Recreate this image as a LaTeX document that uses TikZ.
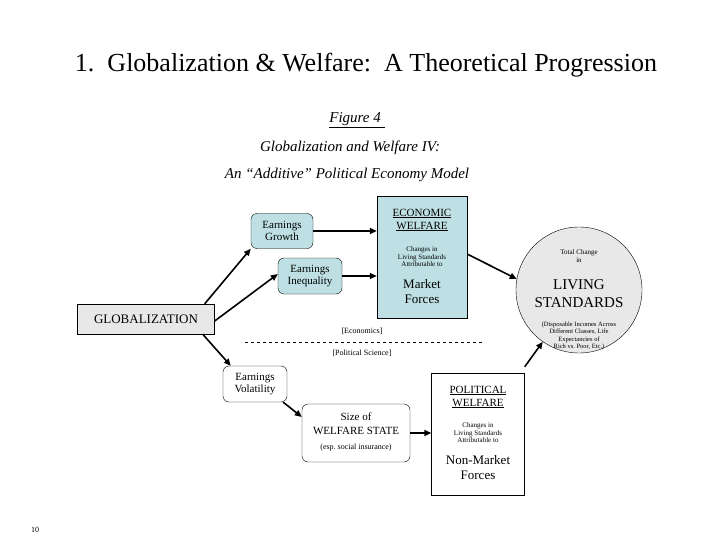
\documentclass[tikz,border=0pt]{standalone}
\usepackage{fontspec}
\setmainfont{Liberation Serif}
\usetikzlibrary{arrows.meta}
\definecolor{lblue}{RGB}{190,224,228}
\definecolor{lgray}{RGB}{232,232,232}
\begin{document}
\begin{tikzpicture}[x=1pt,y=-1pt,
  rbox/.style={draw,rounded corners=6pt,align=center,inner sep=2pt},
  bluefill/.style={fill=lblue},
  arr/.style={-{Triangle[length=7pt,width=6pt]},line width=1.6pt},
  small/.style={font=\fontsize{7}{7.5}\selectfont}]
\useasboundingbox (0,0) rectangle (720,540);
\node (title) at (366,65) {\fontsize{26}{30}\selectfont 1.\ \ Globalization \& Welfare:\ \ A Theoretical Progression};
\node (fig) at (357,120) {\fontsize{15}{17}\selectfont\itshape\underline{Figure 4\ }};
\node (sub1) at (350,148) {\fontsize{15}{17}\selectfont\itshape Globalization and Welfare IV:};
\node (sub2) at (347,175) {\fontsize{15}{17}\selectfont\itshape An ``Additive'' Political Economy Model};
\node[draw,fill=lgray,minimum width=137pt,minimum height=30pt,font=\fontsize{13}{14}\selectfont] (glob) at (146,319) {GLOBALIZATION};
\node[rbox,bluefill,minimum width=62pt,minimum height=35pt,font=\fontsize{11}{12}\selectfont] (grow) at (282,231) {Earnings\\Growth};
\node[rbox,bluefill,minimum width=64pt,minimum height=36pt,font=\fontsize{11}{12}\selectfont] (ineq) at (310,276) {Earnings\\Inequality};
\node[draw,bluefill,minimum width=90pt,minimum height=122pt] (econ) at (422,257) {};
\node[align=center,font=\fontsize{11}{13}\selectfont] (econt) at (422,220) {\underline{ECONOMIC}\\\underline{WELFARE}};
\node[align=center,small] (econs) at (422,257) {Changes in\\Living Standards\\Attributable to};
\node[align=center,font=\fontsize{13}{15}\selectfont] (econm) at (422,292) {Market\\Forces};
\node[draw,circle,fill=lgray,minimum size=126pt] (circ) at (579,290) {};
\node[align=center,small] (circa) at (579,256) {Total Change\\in};
\node[align=center,font=\fontsize{15}{18}\selectfont] (circb) at (579,294) {LIVING\\STANDARDS};
\node[align=center,font=\fontsize{6.5}{7.5}\selectfont] (circc) at (579,336) {(Disposable Incomes Across\\Different Classes, Life\\Expectancies of\\Rich vs.\ Poor, Etc.)};
\coordinate (dl) at (245,342); \coordinate (dr) at (483,342);
\draw[dashed] (dl) -- (dr);
\node[font=\fontsize{8}{9}\selectfont] (ecl) at (362,331) {[Economics]};
\node[font=\fontsize{8}{9}\selectfont] (pol) at (362,353) {[Political Science]};
\node[rbox,minimum width=64pt,minimum height=36pt,font=\fontsize{11}{12}\selectfont] (vol) at (255,384) {Earnings\\Volatility};
\node[rbox,minimum width=108pt,minimum height=58pt,align=center] (ws) at (356,433) {};
\node[align=center,font=\fontsize{11}{14}\selectfont] (wst) at (356,424) {Size of\\WELFARE STATE};
\node[font=\fontsize{8}{9}\selectfont] (wss) at (356,448) {(esp.\ social insurance)};
\node[draw,minimum width=93pt,minimum height=122pt] (polw) at (478,434) {};
\node[align=center,font=\fontsize{11}{13}\selectfont] (polt) at (478,397) {\underline{POLITICAL}\\\underline{WELFARE}};
\node[align=center,small] (pols) at (478,433) {Changes in\\Living Standards\\Attributable to};
\node[align=center,font=\fontsize{13}{15}\selectfont] (polm) at (478,468) {Non-Market\\Forces};
\node[font=\fontsize{8}{9}\selectfont] (pg) at (35,530) {10};
\draw[arr] ([xshift=-10pt]glob.north east) -- (grow.south west);
\draw[arr] ([yshift=-2pt]glob.east) -- ([yshift=2pt]ineq.west);
\draw[arr] ([xshift=-12pt]glob.south east) -- ([xshift=8pt]vol.north west);
\draw[arr] (grow.east) -- (grow.east -| econ.west);
\draw[arr] (ineq.east) -- (ineq.east -| econ.west);
\draw[arr] ([yshift=3pt]econ.east) -- (circ.170);
\draw[arr] ([xshift=-4pt]vol.south east) -- ([yshift=16pt]ws.west);
\draw[arr] (ws.east) -- (ws.east -| polw.west);
\draw[arr] ([yshift=6pt]polw.north east) -- (circ.235);
\end{tikzpicture}
\end{document}
